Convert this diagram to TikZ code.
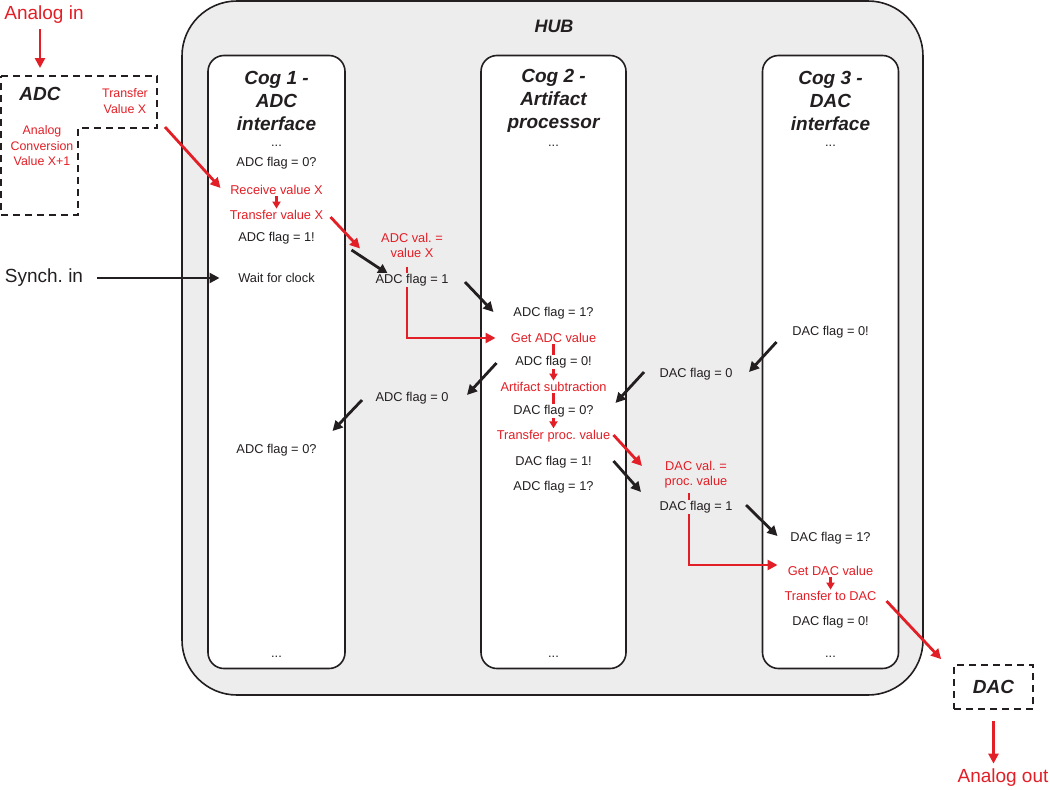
\documentclass[tikz,border=0pt]{standalone}
\usepackage{fontspec}
\setmainfont{Liberation Sans}
\usetikzlibrary{arrows.meta,calc,positioning}
\definecolor{sigred}{RGB}{226,31,38}
\definecolor{hubgray}{RGB}{238,237,238}
\definecolor{inkcolor}{RGB}{35,31,32}
\pgfdeclarelayer{back}
\pgfdeclarelayer{wires}
\pgfsetlayers{back,wires,main}

\begin{document}
\frenchspacing
\begin{tikzpicture}[x=1pt, y=-1pt]
    % Define styles
    \tikzstyle{hubbox} = [draw=inkcolor, line width=1.6pt, fill=hubgray, rounded corners=55pt]
    \tikzstyle{cogbox} = [draw=inkcolor, line width=1.6pt, fill=white, rounded corners=16pt]
    \tikzstyle{cogtitle} = [align=center, font=\fontsize{19}{23}\selectfont\bfseries\itshape, text=inkcolor]
    \tikzstyle{txt} = [font=\fontsize{12.8}{15}\selectfont, text=inkcolor, inner sep=1.5pt, align=center]
    \tikzstyle{cogtxt} = [txt, fill=white]
    \tikzstyle{hubtxt} = [txt, fill=hubgray]
    \tikzstyle{redtxt} = [txt, text=sigred]
    \tikzstyle{boxtxt} = [redtxt, font=\fontsize{12.4}{15.5}\selectfont]
    \tikzstyle{biglabel} = [font=\fontsize{19}{23}\selectfont, text=inkcolor]
    \tikzstyle{dashbox} = [draw=inkcolor, line width=1.7pt, dash pattern=on 7pt off 5pt]
    \tikzstyle{arrow} = [line width=2.8pt, draw=inkcolor, -{Triangle[length=10pt,width=10pt]}]
    \tikzstyle{redarrow} = [arrow, draw=sigred]
    \tikzstyle{hop} = [line width=2.4pt, draw=sigred, -{Triangle[length=7pt,width=8pt]}]

    \useasboundingbox (0,0) rectangle (1050,790);

    % Hub and cogs
    \begin{pgfonlayer}{back}
        \node [hubbox, minimum width=741, minimum height=694] (hub) at (552.5,348) {};
        \node [cogbox, minimum width=137, minimum height=613] (cog1) at (276.5,362) {};
        \node [cogbox, minimum width=145, minimum height=613] (cog2) at (553.5,362) {};
        \node [cogbox, minimum width=136, minimum height=613] (cog3) at (830.5,362) {};
    \end{pgfonlayer}
    \node [cogtitle, font=\fontsize{18}{22}\selectfont\bfseries\itshape] (hublabel) at (554,26) {HUB};
    \node [cogtitle] (title1) at (276.5,101) {Cog 1 -\\ADC\\interface};
    \node [cogtitle] (title2) at (553.5,101) {Cog 2 -\\Artifact\\processor};
    \node [cogtitle] (title3) at (830.5,101) {Cog 3 -\\DAC\\interface};

    % ADC side (left)
    \node [biglabel, text=sigred] (ain) at (44,15) {Analog in};
    \draw [dashbox] (1,76) -- (157,76) -- (157,128) -- (78,128) -- (78,215) -- (1,215) -- cycle;
    \node [cogtitle] (adc) at (40,94) {ADC};
    \node [boxtxt] (adcxfer) at (125,101) {Transfer\\Value X};
    \node [boxtxt] (adcconv) at (42,146) {Analog\\Conversion\\Value X+1};
    \node [biglabel] (synch) at (44,278) {Synch. in};

    % Cog 1
    \node [cogtxt] (c1dots) at (276.5,146) {...};
    \node [cogtxt] (c1zero) at (276.5,163) {ADC flag = 0?};
    \node [redtxt] (c1recv) at (276.5,190) {Receive value X};
    \node [redtxt] (c1xfer) at (276.5,215) {Transfer value X};
    \node [cogtxt] (c1set) at (276.5,238) {ADC flag = 1!};
    \node [cogtxt] (c1wait) at (276.5,278) {Wait for clock};
    \node [cogtxt] (c1zeroq) at (276.5,450) {ADC flag = 0?};
    \node [cogtxt] (c1end) at (276.5,657) {...};

    % Hub memory between cog 1 and cog 2
    \node [redtxt] (adcval) at (412,245.5) {ADC val. =\\value X};
    \node [hubtxt] (m1set) at (412,280) {ADC flag = 1};
    \node [hubtxt] (m1clr) at (412,398) {ADC flag = 0};

    % Cog 2
    \node [cogtxt] (c2dots) at (553.5,146) {...};
    \node [cogtxt] (c2setq) at (553.5,313) {ADC flag = 1?};
    \node [redtxt] (c2get) at (553.5,338) {Get ADC value};
    \node [cogtxt] (c2clr) at (553.5,362) {ADC flag = 0!};
    \node [redtxt] (c2sub) at (553.5,387) {Artifact subtraction};
    \node [cogtxt] (c2dacq) at (553.5,411) {DAC flag = 0?};
    \node [redtxt] (c2xfer) at (553.5,436) {Transfer proc. value};
    \node [cogtxt] (c2dacset) at (553.5,462) {DAC flag = 1!};
    \node [cogtxt] (c2adcq) at (553.5,487) {ADC flag = 1?};
    \node [cogtxt] (c2end) at (553.5,657) {...};

    % Hub memory between cog 2 and cog 3
    \node [hubtxt] (m2clr) at (696,374) {DAC flag = 0};
    \node [redtxt] (dacval) at (696,475) {DAC val. =\\proc. value};
    \node [hubtxt] (m2set) at (696,507) {DAC flag = 1};

    % Cog 3
    \node [cogtxt] (c3dots) at (830.5,146) {...};
    \node [cogtxt] (c3clr) at (830.5,332) {DAC flag = 0!};
    \node [cogtxt] (c3setq) at (830.5,538) {DAC flag = 1?};
    \node [redtxt] (c3get) at (830.5,571) {Get DAC value};
    \node [redtxt] (c3xfer) at (830.5,596) {Transfer to DAC};
    \node [cogtxt] (c3done) at (830.5,622) {DAC flag = 0!};
    \node [cogtxt] (c3end) at (830.5,657) {...};

    % DAC side (right)
    \node [cogtitle, dashbox, minimum width=79, minimum height=44] (dac) at (993.5,687) {DAC};
    \node [biglabel, text=sigred] (aout) at (1003,778) {Analog out};

    % Arrows
    \begin{pgfonlayer}{wires}
        % signal path
        \draw [redarrow] ($(ain.south -| adc)+(0,2)$) -- ($(adc)+(0,-26)$);
        \draw [redarrow] ($(adcxfer)+(40,26)$) -- ($(c1recv)+(-56,-2)$);
        \draw [hop] (c1recv) -- (c1xfer);
        \draw [redarrow] ($(c1xfer)+(54,2)$) -- ($(adcval)+(-52,3)$);
        \draw [redarrow] ($(adcval)+(-5,21)$) |- ($(c2get)+(-58,0)$);
        \draw [hop] (c2get) -- (c2sub);
        \draw [hop] (c2sub) -- (c2xfer);
        \draw [redarrow] ($(c2xfer)+(60,-1)$) -- ($(dacval)+(-54,-9)$);
        \draw [redarrow] ($(dacval)+(-7,18)$) |- ($(c3get)+(-53,-6)$);
        \draw [hop] (c3get) -- (c3xfer);
        \draw [redarrow] ($(c3xfer)+(56,5)$) -- ($(dac.north west)+(-12,-5)$);
        \draw [redarrow] ($(dac.south)+(0,11)$) -- ($(aout.north -| dac)+(0,-2)$);

        % flags and clock
        \draw [arrow] ($(synch)+(53,0)$) -- ($(c1wait)+(-57,0)$);
        \draw [arrow] ($(c1set)+(75,12)$) -- ($(m1set)+(-24,-6)$);
        \draw [arrow] ($(m1set)+(53,2)$) -- ($(c2setq)+(-60,-1)$);
        \draw [arrow] ($(c2clr)+(-57,1)$) -- ($(m1clr)+(55,-3)$);
        \draw [arrow] ($(m1clr)+(-50,2)$) -- ($(c1zeroq)+(56,-19)$);
        \draw [arrow] ($(c3clr)+(-54,10)$) -- ($(m2clr)+(53,-2)$);
        \draw [arrow] ($(m2clr)+(-52,-2)$) -- ($(c2dacq)+(62,-8)$);
        \draw [arrow] ($(c2dacset)+(60,-1)$) -- ($(m2set)+(-55,-15)$);
        \draw [arrow] ($(m2set)+(50,-2)$) -- ($(c3setq)+(-53,-2)$);
    \end{pgfonlayer}
\end{tikzpicture}
\end{document}
